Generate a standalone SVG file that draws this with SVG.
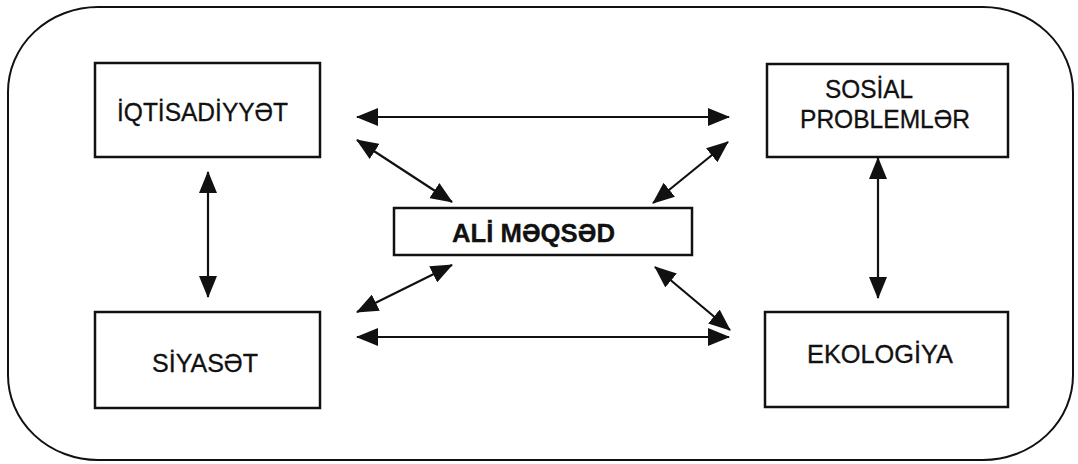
<svg xmlns="http://www.w3.org/2000/svg" width="1078" height="464" viewBox="0 0 1078 464">
  <style>
    .frame { fill: none; stroke: #111; stroke-width: 2; }
    .box { fill: #fff; stroke: #111; stroke-width: 2.5; }
    .lbl { font-family: "Liberation Sans", Arial, sans-serif; font-size: 25px; fill: #111; stroke: #111; stroke-width: 0.3; }
    .bold { font-weight: bold; }
    .link { stroke: #111; stroke-width: 2.2; fill: none; marker-start: url(#head); marker-end: url(#head); }
  </style>
  <defs>
    <marker id="head" markerUnits="userSpaceOnUse" markerWidth="22" markerHeight="18" refX="21" refY="9" orient="auto-start-reverse" viewBox="0 0 22 18">
      <path d="M0,0 L22,9 L0,18 Z" fill="#111"/>
    </marker>
  </defs>
  <rect x="0" y="0" width="1078" height="464" fill="#fff"/>

  <!-- outer rounded frame -->
  <rect class="frame" x="8" y="7" width="1065" height="453" rx="90" ry="85"/>

  <g id="iqtisadiyyat">
    <rect class="box" x="95" y="63" width="225" height="94"/>
    <text class="lbl" x="117" y="121" textLength="171" lengthAdjust="spacingAndGlyphs">İQTİSADİYYƏT</text>
  </g>

  <g id="sosial-problemler">
    <rect class="box" x="767" y="64" width="241" height="93"/>
    <text class="lbl" x="825" y="98" textLength="88" lengthAdjust="spacingAndGlyphs">SOSİAL</text>
    <text class="lbl" x="800" y="128" textLength="170" lengthAdjust="spacingAndGlyphs">PROBLEMLƏR</text>
  </g>

  <g id="ali-meqsed">
    <rect class="box" x="394" y="208" width="298" height="47"/>
    <text class="lbl bold" x="452" y="242" textLength="163" lengthAdjust="spacingAndGlyphs">ALİ MƏQSƏD</text>
  </g>

  <g id="siyaset">
    <rect class="box" x="95" y="312" width="225" height="96"/>
    <text class="lbl" x="152" y="372" textLength="106" lengthAdjust="spacingAndGlyphs">SİYASƏT</text>
  </g>

  <g id="ekologiya">
    <rect class="box" x="765" y="312" width="243" height="95"/>
    <text class="lbl" x="807" y="363" textLength="146" lengthAdjust="spacingAndGlyphs">EKOLOGİYA</text>
  </g>

  <g id="connectors">
    <line class="link" x1="357" y1="117" x2="729" y2="117"/>
    <line class="link" x1="357" y1="337" x2="729" y2="337"/>
    <line class="link" x1="357" y1="140" x2="452" y2="202"/>
    <line class="link" x1="728" y1="142" x2="653" y2="203"/>
    <line class="link" x1="357" y1="312" x2="452" y2="265"/>
    <line class="link" x1="730" y1="330" x2="655" y2="267"/>
    <line class="link" x1="208" y1="172" x2="208" y2="297"/>
    <line class="link" x1="878" y1="158" x2="878" y2="298"/>
  </g>
</svg>
